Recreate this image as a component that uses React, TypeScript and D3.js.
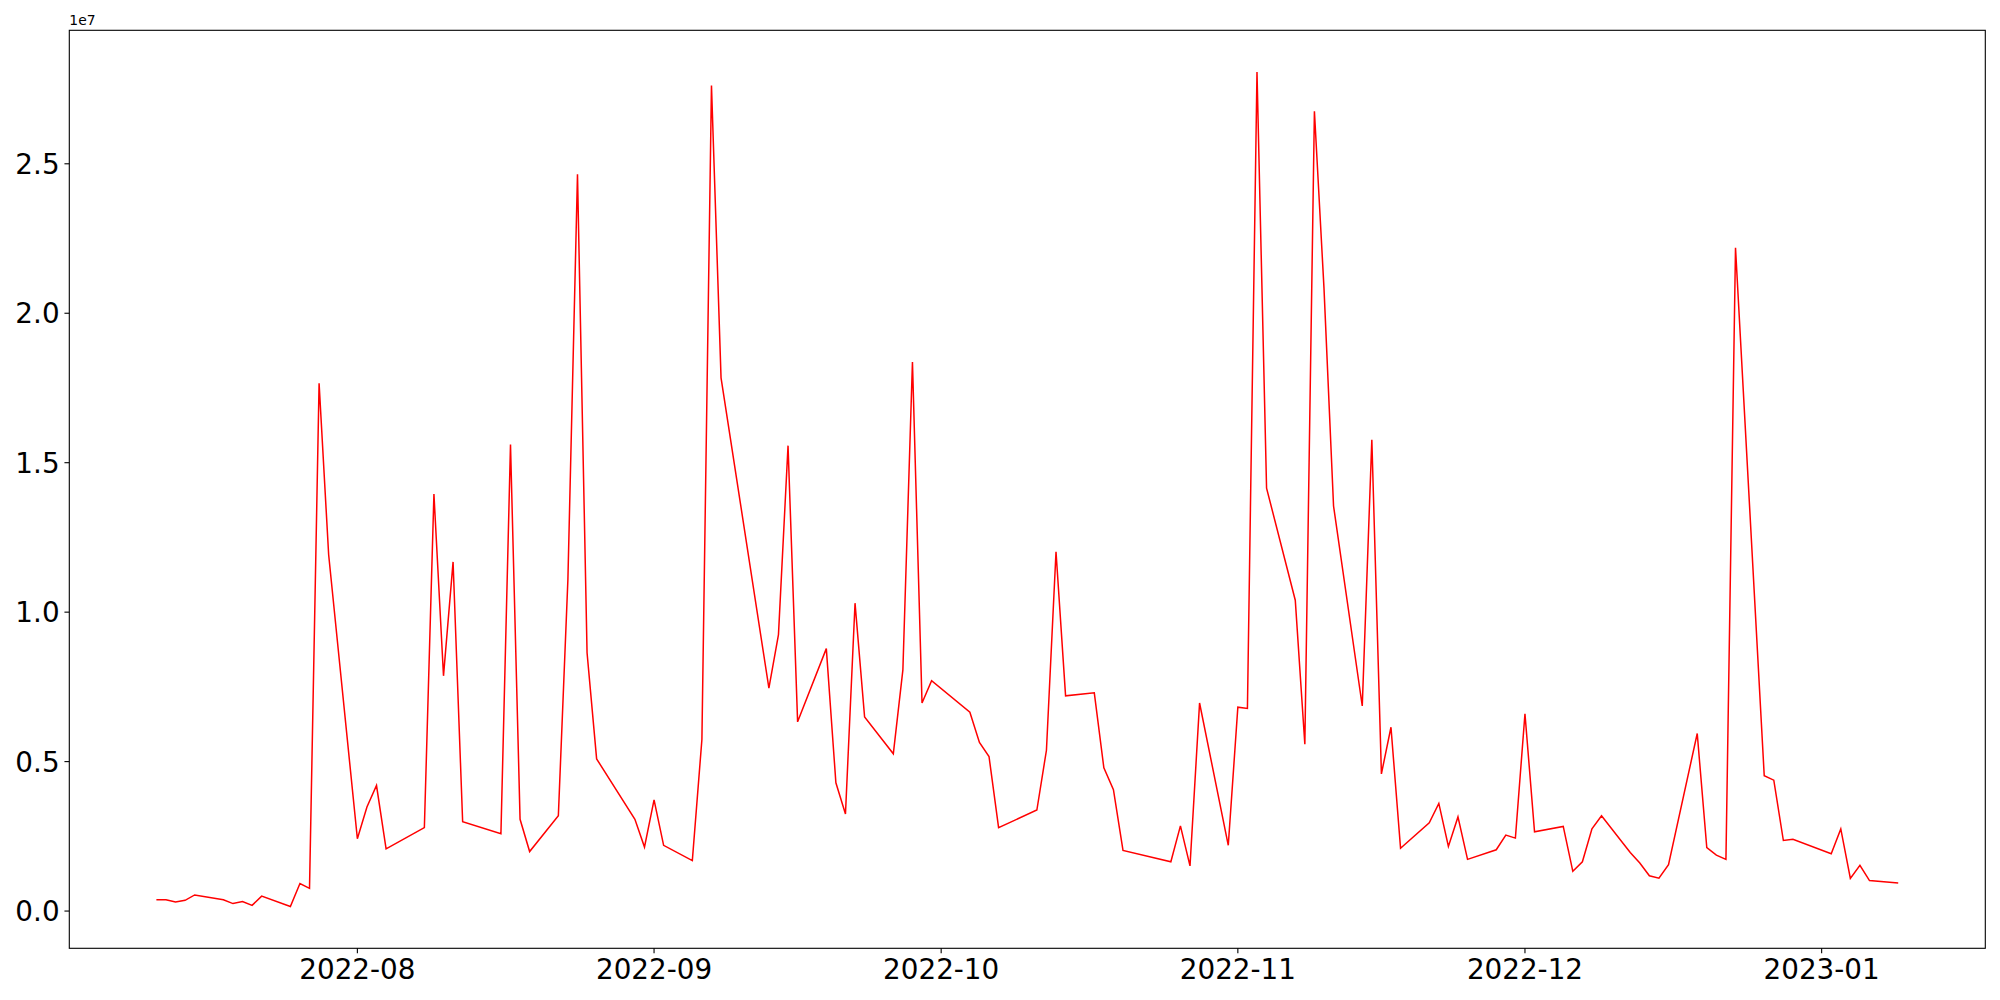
import React from "react";
import * as d3 from "d3";

const dates: string[] = [
  "2022-07-11","2022-07-12","2022-07-13","2022-07-14","2022-07-15",
  "2022-07-18","2022-07-19","2022-07-20","2022-07-21","2022-07-22",
  "2022-07-25","2022-07-26","2022-07-27","2022-07-28","2022-07-29",
  "2022-08-01","2022-08-02","2022-08-03","2022-08-04","2022-08-08",
  "2022-08-09","2022-08-10","2022-08-11","2022-08-12","2022-08-16",
  "2022-08-17","2022-08-18","2022-08-19","2022-08-22","2022-08-23",
  "2022-08-24","2022-08-25","2022-08-26","2022-08-30","2022-08-31",
  "2022-09-01","2022-09-02","2022-09-05","2022-09-06","2022-09-07",
  "2022-09-08","2022-09-13","2022-09-14","2022-09-15","2022-09-16",
  "2022-09-19","2022-09-20","2022-09-21","2022-09-22","2022-09-23",
  "2022-09-26","2022-09-27","2022-09-28","2022-09-29","2022-09-30",
  "2022-10-04","2022-10-05","2022-10-06","2022-10-07","2022-10-11",
  "2022-10-12","2022-10-13","2022-10-14","2022-10-17","2022-10-18",
  "2022-10-19","2022-10-20","2022-10-25","2022-10-26","2022-10-27",
  "2022-10-28","2022-10-31","2022-11-01","2022-11-02","2022-11-03",
  "2022-11-04","2022-11-07","2022-11-08","2022-11-09","2022-11-10",
  "2022-11-11","2022-11-14","2022-11-15","2022-11-16","2022-11-17",
  "2022-11-18","2022-11-21","2022-11-22","2022-11-23","2022-11-24",
  "2022-11-25","2022-11-28","2022-11-29","2022-11-30","2022-12-01",
  "2022-12-02","2022-12-05","2022-12-06","2022-12-07","2022-12-08",
  "2022-12-09","2022-12-12","2022-12-13","2022-12-14","2022-12-15",
  "2022-12-16","2022-12-19","2022-12-20","2022-12-21","2022-12-22",
  "2022-12-23","2022-12-26","2022-12-27","2022-12-28","2022-12-29",
  "2023-01-02","2023-01-03","2023-01-04","2023-01-05","2023-01-06",
  "2023-01-09",
];

const values: number[] = [
  380000, 380000, 300000, 360000, 540000,
  380000, 250000, 320000, 190000, 500000,
  150000, 920000, 760000, 17660000, 11920000,
  2420000, 3480000, 4200000, 2080000, 2790000,
  13950000, 7870000, 11680000, 2990000, 2590000,
  15610000, 3070000, 1990000, 3190000, 11110000,
  24650000, 8640000, 5090000, 3070000, 2140000,
  3720000, 2200000, 1690000, 5740000, 27620000,
  17840000, 7460000, 9250000, 15570000, 6330000,
  8780000, 4290000, 3250000, 10300000, 6490000,
  5260000, 8070000, 18370000, 6960000, 7710000,
  6650000, 5640000, 5170000, 2790000, 3380000,
  5380000, 12020000, 7200000, 7300000, 4790000,
  4060000, 2030000, 1650000, 2850000, 1510000,
  6960000, 2200000, 6820000, 6780000, 28070000,
  14150000, 10400000, 5580000, 26760000, 20840000,
  13550000, 6860000, 15770000, 4590000, 6150000,
  2100000, 2950000, 3600000, 2160000, 3150000,
  1730000, 2050000, 2540000, 2440000, 6600000,
  2650000, 2830000, 1330000, 1650000, 2750000,
  3190000, 1960000, 1610000, 1180000, 1100000,
  1550000, 5940000, 2120000, 1870000, 1730000,
  22190000, 4530000, 4380000, 2360000, 2400000,
  1920000, 2750000, 1090000, 1530000, 1020000,
  940000,
];

const yTickValues: number[] = [0, 5000000, 10000000, 15000000, 20000000, 25000000];
const yTickLabels: string[] = ["0.0", "0.5", "1.0", "1.5", "2.0", "2.5"];
const xTickDates: string[] = ["2022-08-01", "2022-09-01", "2022-10-01", "2022-11-01", "2022-12-01", "2023-01-01"];
const offsetLabel = "1e7";

const W = 2000;
const H = 1000;
const M = { left: 69.3, right: 1985.3, top: 30.3, bottom: 948.3 };
const FONT = "DejaVu Sans, sans-serif";
const TICK_FS = 27.8;

export default function App() {
  const parse = d3.utcParse("%Y-%m-%d");
  const xs = dates.map((d) => parse(d) as Date);
  const data = xs.map((d, i) => ({ d, v: values[i] }));

  const [x0, x1] = d3.extent(xs) as [Date, Date];
  const xSpan = x1.getTime() - x0.getTime();
  const x = d3
    .scaleUtc()
    .domain([new Date(x0.getTime() - 0.05 * xSpan), new Date(x1.getTime() + 0.05 * xSpan)])
    .range([M.left, M.right]);

  const [v0, v1] = d3.extent(values) as [number, number];
  const vSpan = v1 - v0;
  const y = d3
    .scaleLinear()
    .domain([v0 - 0.05 * vSpan, v1 + 0.05 * vSpan])
    .range([M.bottom, M.top]);

  const line = d3
    .line<{ d: Date; v: number }>()
    .x((p) => x(p.d))
    .y((p) => y(p.v));

  const fmt = d3.utcFormat("%Y-%m");
  const tickLen = 4.86;
  const pad = 4.86;

  return (
    <svg
      width={W}
      height={H}
      viewBox={`0 0 ${W} ${H}`}
      style={{ position: "absolute", left: 0, top: 0, display: "block", background: "#fff" }}
      fontFamily={FONT}
    >
      <rect x={0} y={0} width={W} height={H} fill="#fff" />
      <path d={line(data) || ""} fill="none" stroke="#ff0000" strokeWidth={1.5} strokeLinejoin="miter" />
      {/* spines */}
      <rect
        x={M.left}
        y={M.top}
        width={M.right - M.left}
        height={M.bottom - M.top}
        fill="none"
        stroke="#000"
        strokeWidth={1.1}
      />
      {/* x ticks */}
      {xTickDates.map((s) => {
        const d = parse(s) as Date;
        const px = x(d);
        return (
          <g key={s}>
            <line x1={px} x2={px} y1={M.bottom} y2={M.bottom + tickLen} stroke="#000" strokeWidth={1.1} />
            <text x={px} y={M.bottom + tickLen + pad + 0.76 * TICK_FS} textAnchor="middle" fontSize={TICK_FS} fill="#000">
              {fmt(d)}
            </text>
          </g>
        );
      })}
      {/* y ticks */}
      {yTickValues.map((v, i) => {
        const py = y(v);
        return (
          <g key={v}>
            <line x1={M.left - tickLen} x2={M.left} y1={py} y2={py} stroke="#000" strokeWidth={1.1} />
            <text
              x={M.left - tickLen - pad}
              y={py + 0.36 * TICK_FS}
              textAnchor="end"
              fontSize={TICK_FS}
              fill="#000"
            >
              {yTickLabels[i]}
            </text>
          </g>
        );
      })}
      <text x={M.left} y={M.top - 5} fontSize={13.9} fill="#000">
        {offsetLabel}
      </text>
    </svg>
  );
}
